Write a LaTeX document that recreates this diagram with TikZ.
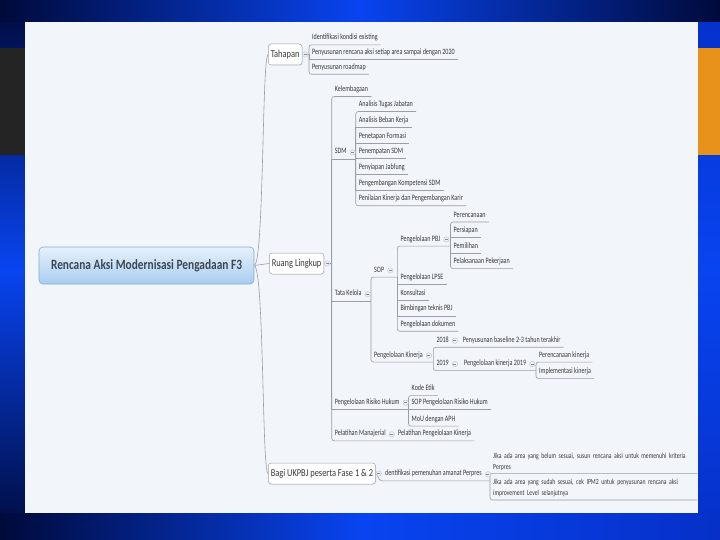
\documentclass[tikz,border=0pt]{standalone}
\usepackage{fontspec}
\newfontfamily\cf{Carlito}[FakeStretch=0.8]
\newfontfamily\cfs{Carlito}[FakeStretch=0.74]
\usetikzlibrary{positioning,shadows}
\definecolor{bgbright}{HTML}{0844F0}
\definecolor{bgmid}{HTML}{0630C8}
\definecolor{bgdark}{HTML}{000A3A}
\definecolor{darkband}{HTML}{242424}
\definecolor{orangeband}{HTML}{E8921C}
\definecolor{panel}{HTML}{F2F5FA}
\definecolor{linec}{HTML}{9A9EA6}
\definecolor{txt}{HTML}{383838}
\definecolor{boxborder}{HTML}{9DA3AB}
\definecolor{centop}{HTML}{E6F1FC}
\definecolor{cenbot}{HTML}{A8CDEF}
\definecolor{cenborder}{HTML}{86ABD3}
\definecolor{centext}{HTML}{3D4752}
\definecolor{colfill}{HTML}{EDF0F5}
\definecolor{coldraw}{HTML}{C0C5CE}
\begin{document}
\begin{tikzpicture}[x=1pt,y=-1pt,
  conn/.style={draw=linec, line width=0.6pt},
  rc/.style={rounded corners=2.5pt},
  leaf/.style={anchor=west, font=\cfs\fontsize{8.2}{9.6}\selectfont, text=txt, inner xsep=3pt, inner ysep=2.5pt, text height=5.5pt, text depth=2.2pt},
  jleaf/.style={anchor=south west, font=\cfs\fontsize{7.7}{9.6}\selectfont, text=txt, inner xsep=3pt, inner ysep=2.5pt, text width=201pt, align=left},
  box/.style={anchor=west, draw=boxborder, fill=white, rounded corners=3pt, line width=0.5pt, minimum height=21pt, inner xsep=2.5pt, font=\cf\fontsize{10.5}{12}\selectfont, text=txt, drop shadow={opacity=0.12, shadow xshift=0.8pt, shadow yshift=-0.8pt}},
  cen/.style={draw=cenborder, line width=0.6pt, rounded corners=4pt, top color=centop, bottom color=cenbot, minimum width=215pt, minimum height=37pt, font=\cf\bfseries\fontsize{14.2}{16}\selectfont, text=centext},
  col/.style={circle, minimum size=5.4pt, inner sep=0pt, draw=coldraw, fill=colfill, line width=0.45pt,
    path picture={\draw[coldraw!70!black, line width=0.5pt] ([xshift=-1.5pt]path picture bounding box.center) -- ([xshift=1.5pt]path picture bounding box.center);}}
]
\useasboundingbox (0,0) rectangle (720,540);
% background
\fill[bgbright] (0,0) rectangle (720,540);
\shade[top color=bgdark, bottom color=bgdark, middle color=bgbright] (0,0) rectangle (30,540);
\shade[top color=bgmid, bottom color=bgmid, middle color=bgbright] (690,0) rectangle (720,540);
\shade[left color=bgdark, right color=bgdark, middle color=bgbright] (0,0) rectangle (720,22);
\shade[left color=bgdark, right color=bgmid, middle color=bgbright] (0,513) rectangle (720,540);
\fill[darkband] (0,48) rectangle (30,155);
\fill[orangeband] (690,48) rectangle (720,155);
\fill[panel] (25,22) rectangle (698,513);

% main nodes
\node[cen] (cen) at (146.5,265.5) {Rencana Aksi Modernisasi Pengadaan F3};
\node[box] (tah) at (268,54.5) {Tahapan};
\node[box] (rl) at (269,263.5) {Ruang Lingkup};
\node[box] (bagi) at (268,473.5) {Bagi UKPBJ peserta Fase 1 \& 2};

% Tahapan
\node[leaf] (t1) at (309,38.3) {Identifikasi kondisi existing};
\node[leaf] (t2) at (309,52.7) {Penyusunan rencana aksi setiap area sampai dengan 2020};
\node[leaf] (t3) at (309,67.7) {Penyusunan roadmap};

% Ruang Lingkup
\node[leaf] (kel) at (331.7,90) {Kelembagaan};
\node[leaf] (sdm) at (331.7,152.3) {SDM};
\node[leaf] (tk) at (331.7,294.3) {Tata Kelola};
\node[leaf] (prh) at (331.7,402.7) {Pengelolaan Risiko Hukum};
\node[leaf] (pm) at (331.7,434.3) {Pelatihan Manajerial};

% SDM
\node[leaf] (s1) at (355.7,105) {Analisis Tugas Jabatan};
\node[leaf] (s2) at (355.7,120.7) {Analisis Beban Kerja};
\node[leaf] (s3) at (355.7,136.4) {Penetapan Formasi};
\node[leaf] (s4) at (355.7,152.1) {Penempatan SDM};
\node[leaf] (s5) at (355.7,167.8) {Penyiapan Jabfung};
\node[leaf] (s6) at (355.7,183.5) {Pengembangan Kompetensi SDM};
\node[leaf] (s7) at (355.7,199.2) {Penilaian Kinerja dan Pengembangan Karir};

% Tata Kelola
\node[leaf] (sop) at (371,270.5) {SOP};
\node[leaf] (pk) at (371,355.5) {Pengelolaan Kinerja};

% SOP
\node[leaf] (pbj) at (397.3,239.5) {Pengelolaan PBJ};
\node[leaf] (lpse) at (397.3,278) {Pengelolaan LPSE};
\node[leaf] (kons) at (397.3,294) {Konsultasi};
\node[leaf] (bimtek) at (397.3,309.3) {Bimbingan teknis PBJ};
\node[leaf] (dok) at (397.3,324.7) {Pengelolaan dokumen};

% PBJ
\node[leaf] (b1) at (450.5,215.5) {Perencanaan};
\node[leaf] (b2) at (450.5,231) {Persiapan};
\node[leaf] (b3) at (450.5,246.5) {Pemilihan};
\node[leaf] (b4) at (450.5,262) {Pelaksanaan Pekerjaan};

% Pengelolaan Kinerja
\node[leaf] (y18) at (433.3,340.7) {2018};
\node[leaf] (y19) at (433.3,364) {2019};
\node[leaf] (bl) at (459.7,340.7) {Penyusunan baseline 2-3 tahun terakhir};
\node[leaf] (k19) at (461,364) {Pengelolaan kinerja 2019};
\node[leaf] (pk1) at (536,355.5) {Perencanaan kinerja};
\node[leaf] (pk2) at (536,372) {Implementasi kinerja};

% Risiko Hukum
\node[leaf] (ke) at (408.5,389) {Kode Etik};
\node[leaf] (sopr) at (408.5,403) {SOP Pengelolaan Risiko Hukum};
\node[leaf] (mou) at (408.5,419.5) {MoU dengan APH};

% Pelatihan
\node[leaf] (ppk) at (395,434.3) {Pelatihan Pengelolaan Kinerja};

% Bagi
\node[leaf] (idn) at (382,474.3) {dentifikasi pemenuhan amanat Perpres};
\node[jleaf] (j1) at (490,473.3) {\mbox{Jika ada area yang belum sesuai, susun rencana aksi untuk memenuhi kriteria}\\[1.6pt]\mbox{Perpres}};
\node[jleaf] (j2) at (490,500) {\mbox{Jika ada area yang sudah sesuai, cek IPM2 untuk penyusunan rencana aksi}\\[1.6pt]\mbox{improvement Level selanjutnya}};

% bracket coordinates
\coordinate (tahB) at (tah.east -| t1.west);
\coordinate (rlB) at (rl.east -| kel.west);
\coordinate (sdmB) at (sdm.south west -| s1.west);
\coordinate (tkB) at (tk.south west -| sop.west);
\coordinate (sopB) at (sop.south west -| pbj.west);
\coordinate (pbjB) at (pbj.south west -| b1.west);
\coordinate (pkB) at (pk.south west -| y18.west);
\coordinate (k19B) at (k19.south west -| pk1.west);
\coordinate (prhB) at (prh.south west -| ke.west);
\coordinate (bagiB) at (idn.south west -| j1.south west);

% trunk
\draw[conn] (cen.east) .. controls (264,263) and (262,56) .. (tah.west);
\draw[conn] (cen.east) -- (rl.west);
\draw[conn] (cen.east) .. controls (264,268) and (262,472) .. (bagi.west);

% Tahapan
\draw[conn] (tah.east) -- (tahB);
\draw[conn,rc] (t1.south east) -| (tahB) |- (t3.south east);
\draw[conn] (tahB) |- (t2.south east);

% Ruang Lingkup
\draw[conn] (rl.east) -- (rlB);
\draw[conn,rc] (kel.south east) -| (rlB) |- (ppk.south east);
\draw[conn] (rlB) |- (sdmB);
\draw[conn] (rlB) |- (tkB);
\draw[conn] (rlB) |- (prhB);

% SDM
\draw[conn,rc] (s1.south east) -| (sdmB) |- (s7.south east);
\foreach \n in {s2,s3,s4,s5,s6} \draw[conn] (sdmB) |- (\n.south east);

% Tata Kelola
\draw[conn,rc] (sopB) -| (tkB) |- (pkB);

% SOP
\draw[conn,rc] (pbjB) -| (sopB) |- (dok.south east);
\foreach \n in {lpse,kons,bimtek} \draw[conn] (sopB) |- (\n.south east);

% PBJ
\draw[conn,rc] (b1.south east) -| (pbjB) |- (b4.south east);
\foreach \n in {b2,b3} \draw[conn] (pbjB) |- (\n.south east);

% Pengelolaan Kinerja
\draw[conn,rc] (bl.south east) -| (pkB) |- (k19B);
\draw[conn,rc] (pk1.south east) -| (k19B) |- (pk2.south east);

% Risiko Hukum
\draw[conn,rc] (ke.south east) -| (prhB) |- (mou.south east);
\draw[conn] (prhB) |- (sopr.south east);

% Bagi
\draw[conn] (bagi.east) .. controls (378,473.5) and (377,480.15) .. (idn.south west) -- (bagiB);
\draw[conn,rc] (j1.south east) -| (bagiB) |- (j2.south east);

% collapse markers
\foreach \n in {tah,rl,bagi,sdm,tk,sop,pbj,pk,y18,y19,k19,prh,pm,idn}
  \node[col, right=0pt of \n] (c\n) {};
\end{tikzpicture}
\end{document}
